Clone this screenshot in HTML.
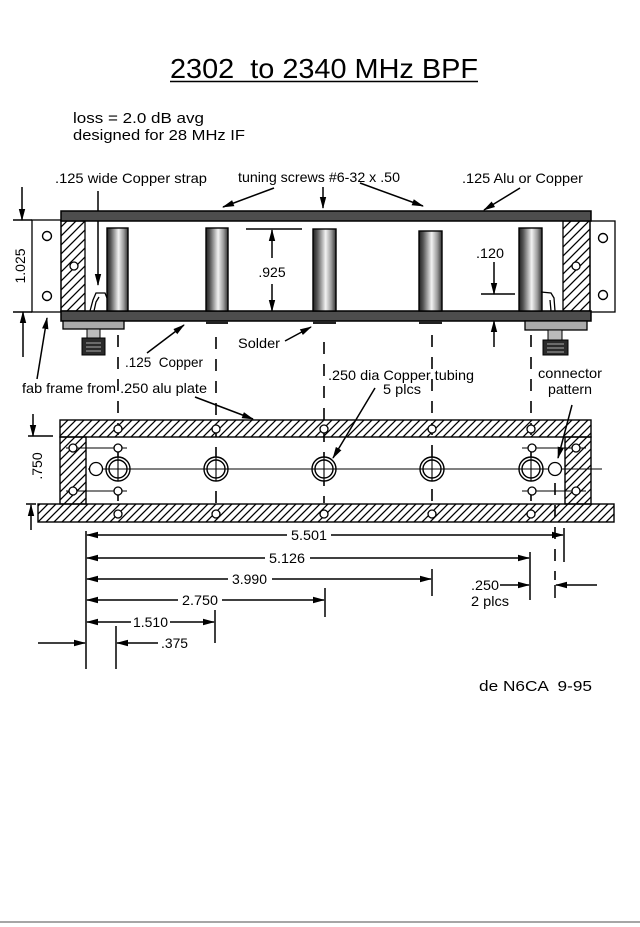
<!DOCTYPE html>
<html>
<head>
<meta charset="utf-8">
<style>
html,body{margin:0;padding:0;background:#fff;}
svg{display:block;}
text{font-family:"Liberation Sans",Arial,sans-serif;fill:#000;white-space:pre;}
</style>
</head>
<body>
<svg width="640" height="927" viewBox="0 0 640 927" xmlns="http://www.w3.org/2000/svg">
<defs>
<pattern id="hatch" patternUnits="userSpaceOnUse" width="8" height="8">
<path d="M0,8 L8,0 M-2,2 L2,-2 M6,10 L10,6" stroke="#000" stroke-width="1.3"/>
</pattern>
<pattern id="hatch2" patternUnits="userSpaceOnUse" width="9" height="9">
<path d="M0,9 L9,0 M-2,2 L2,-2 M7,11 L11,7" stroke="#000" stroke-width="1.3"/>
</pattern>
<linearGradient id="tube" x1="0" y1="0" x2="1" y2="0">
<stop offset="0" stop-color="#222"/>
<stop offset="0.18" stop-color="#555"/>
<stop offset="0.55" stop-color="#f2f2f2"/>
<stop offset="0.8" stop-color="#999"/>
<stop offset="1" stop-color="#333"/>
</linearGradient>
<marker id="ah" markerWidth="12" markerHeight="8" refX="11" refY="4" orient="auto" markerUnits="userSpaceOnUse">
<path d="M0,0.8 L12,4 L0,7.2 Z" fill="#000"/>
</marker>
</defs>

<!-- Title -->
<text x="170" y="78" font-size="28" textLength="308" lengthAdjust="spacingAndGlyphs">2302  to 2340 MHz BPF</text>
<line x1="170" y1="81.5" x2="478" y2="81.5" stroke="#000" stroke-width="1.6"/>

<text x="73" y="123" font-size="15" textLength="131" lengthAdjust="spacingAndGlyphs">loss = 2.0 dB avg</text>
<text x="73" y="140" font-size="15" textLength="172" lengthAdjust="spacingAndGlyphs">designed for 28 MHz IF</text>

<!-- top labels -->
<text x="55" y="183" font-size="14" textLength="152" lengthAdjust="spacingAndGlyphs">.125 wide Copper strap</text>
<text x="238" y="182" font-size="14" textLength="162" lengthAdjust="spacingAndGlyphs">tuning screws #6-32 x .50</text>
<text x="462" y="183" font-size="14" textLength="121" lengthAdjust="spacingAndGlyphs">.125 Alu or Copper</text>

<g stroke="#000" stroke-width="1.5" fill="none">
<line x1="98" y1="191" x2="98" y2="285" marker-end="url(#ah)"/>
<line x1="274" y1="188" x2="223" y2="207" marker-end="url(#ah)"/>
<line x1="323" y1="187" x2="323" y2="208" marker-end="url(#ah)"/>
<line x1="360" y1="183" x2="423" y2="206" marker-end="url(#ah)"/>
<line x1="520" y1="188" x2="484" y2="210" marker-end="url(#ah)"/>
</g>

<!-- Side view -->
<rect x="32" y="220" width="29" height="92" fill="#fff" stroke="#000" stroke-width="1.3"/>
<circle cx="47" cy="236" r="4.5" fill="#fff" stroke="#000" stroke-width="1.4"/>
<circle cx="47" cy="296" r="4.5" fill="#fff" stroke="#000" stroke-width="1.4"/>
<rect x="590" y="221" width="25" height="91" fill="#fff" stroke="#000" stroke-width="1.3"/>
<circle cx="603" cy="238" r="4.5" fill="#fff" stroke="#000" stroke-width="1.4"/>
<circle cx="603" cy="295" r="4.5" fill="#fff" stroke="#000" stroke-width="1.4"/>
<rect x="61" y="221" width="24" height="90" fill="url(#hatch2)" stroke="#000" stroke-width="1.3"/>
<circle cx="74" cy="266" r="4" fill="#fff" stroke="#000" stroke-width="1.3"/>
<rect x="563" y="221" width="27" height="90" fill="url(#hatch2)" stroke="#000" stroke-width="1.3"/>
<circle cx="576" cy="266" r="4" fill="#fff" stroke="#000" stroke-width="1.3"/>
<rect x="61" y="211" width="530" height="10" fill="#4d4d4d" stroke="#000" stroke-width="1.5"/>
<rect x="61" y="311" width="530" height="10" fill="#4d4d4d" stroke="#000" stroke-width="1.5"/>
<g stroke="#000" stroke-width="1.4" fill="url(#tube)">
<rect x="107" y="228" width="21" height="83"/>
<rect x="206" y="228" width="22" height="83"/>
<rect x="313" y="229" width="23" height="82"/>
<rect x="419" y="231" width="23" height="80"/>
<rect x="519" y="228" width="23" height="83"/>
</g>
<g fill="#222">
<rect x="206" y="321" width="22" height="3"/>
<rect x="313" y="321" width="23" height="3"/>
<rect x="419" y="321" width="23" height="3"/>
</g>
<g stroke="#000" stroke-width="1.3" fill="none">
<polyline points="90,311 93,300 96,293 105,293 107,298"/>
<polyline points="94,311 96,302 99,297"/>
<polyline points="555,311 554,298 551,293 541,292"/>
<polyline points="551,311 550,300"/>
</g>
<rect x="63" y="321" width="61" height="8" fill="#aaa" stroke="#000" stroke-width="1.3"/>
<rect x="87" y="329" width="13" height="9" fill="#bbb" stroke="#000" stroke-width="1"/>
<rect x="82" y="338" width="23" height="17" fill="#2a2a2a" stroke="#000" stroke-width="1"/>
<g stroke="#aaa" stroke-width="1"><line x1="86" y1="343" x2="101" y2="343"/><line x1="86" y1="347" x2="101" y2="347"/><line x1="86" y1="351" x2="101" y2="351"/></g>
<rect x="525" y="321" width="62" height="9" fill="#aaa" stroke="#000" stroke-width="1.3"/>
<rect x="548" y="330" width="14" height="10" fill="#bbb" stroke="#000" stroke-width="1"/>
<rect x="543" y="340" width="25" height="15" fill="#2a2a2a" stroke="#000" stroke-width="1"/>
<g stroke="#aaa" stroke-width="1"><line x1="547" y1="344" x2="564" y2="344"/><line x1="547" y1="348" x2="564" y2="348"/><line x1="547" y1="352" x2="564" y2="352"/></g>

<!-- 1.025 dimension -->
<g stroke="#000" stroke-width="1.5" fill="none">
<line x1="13" y1="220" x2="32" y2="220"/>
<line x1="13" y1="312" x2="32" y2="312"/>
<line x1="22" y1="187" x2="22" y2="220" marker-end="url(#ah)"/>
<line x1="23" y1="357" x2="23" y2="312" marker-end="url(#ah)"/>
</g>
<text transform="translate(25,266) rotate(-90)" font-size="14" text-anchor="middle">1.025</text>

<!-- .925 / .120 dims -->
<g stroke="#000" stroke-width="1.5" fill="none">
<line x1="246" y1="229" x2="302" y2="229"/>
<line x1="272" y1="258" x2="272" y2="230" marker-end="url(#ah)"/>
<line x1="272" y1="284" x2="272" y2="311" marker-end="url(#ah)"/>
<line x1="481" y1="294" x2="515" y2="294"/>
<line x1="494" y1="262" x2="494" y2="294" marker-end="url(#ah)"/>
<line x1="494" y1="347" x2="494" y2="321" marker-end="url(#ah)"/>
</g>
<text x="272" y="277" font-size="14" text-anchor="middle">.925</text>
<text x="476" y="258" font-size="14" textLength="28" lengthAdjust="spacingAndGlyphs">.120</text>

<!-- labels below side view -->
<text x="238" y="348" font-size="14" textLength="42" lengthAdjust="spacingAndGlyphs">Solder</text>
<text x="125" y="367" font-size="14" textLength="78" lengthAdjust="spacingAndGlyphs">.125  Copper</text>
<text x="22" y="393" font-size="14" textLength="185" lengthAdjust="spacingAndGlyphs">fab frame from .250 alu plate</text>
<text x="328" y="380" font-size="14" textLength="146" lengthAdjust="spacingAndGlyphs">.250 dia Copper tubing</text>
<text x="383" y="394" font-size="14" textLength="38" lengthAdjust="spacingAndGlyphs">5 plcs</text>
<text x="538" y="378" font-size="14" textLength="64" lengthAdjust="spacingAndGlyphs">connector</text>
<text x="548" y="394" font-size="14" textLength="44" lengthAdjust="spacingAndGlyphs">pattern</text>

<g stroke="#000" stroke-width="1.5" fill="none">
<line x1="285" y1="341" x2="311" y2="327" marker-end="url(#ah)"/>
<line x1="147" y1="353" x2="184" y2="325" marker-end="url(#ah)"/>
<line x1="37" y1="379" x2="47" y2="318" marker-end="url(#ah)"/>
<line x1="195" y1="397" x2="253" y2="419" marker-end="url(#ah)"/>
<line x1="375" y1="388" x2="333" y2="458" marker-end="url(#ah)"/>
<line x1="572" y1="405" x2="558" y2="458" marker-end="url(#ah)"/>
</g>

<!-- Top view -->
<rect x="60" y="420" width="531" height="17" fill="url(#hatch)" stroke="#000" stroke-width="1.4"/>
<rect x="60" y="437" width="26" height="67" fill="url(#hatch)" stroke="#000" stroke-width="1.4"/>
<rect x="565" y="437" width="26" height="67" fill="url(#hatch)" stroke="#000" stroke-width="1.4"/>
<rect x="38" y="504" width="576" height="18" fill="url(#hatch)" stroke="#000" stroke-width="1.4"/>

<g stroke="#000" stroke-width="1.1" fill="none">
<line x1="88" y1="469" x2="602" y2="469"/>
<line x1="66" y1="448" x2="127" y2="448"/>
<line x1="66" y1="491" x2="127" y2="491"/>
<line x1="522" y1="448" x2="586" y2="448"/>
<line x1="522" y1="491" x2="586" y2="491"/>
</g>

<g stroke="#000" stroke-width="1.6" stroke-dasharray="12 10" fill="none">
<line x1="118" y1="335" x2="118" y2="503"/>
<line x1="216" y1="337" x2="216" y2="503"/>
<line x1="324" y1="342" x2="324" y2="503"/>
<line x1="432" y1="335" x2="432" y2="503"/>
<line x1="531" y1="335" x2="531" y2="503"/>
<line x1="555" y1="483" x2="555" y2="580"/>
</g>

<g stroke="#000" stroke-width="1.4" fill="#fff">
<circle cx="118" cy="469" r="12"/><circle cx="118" cy="469" r="9"/>
<circle cx="216" cy="469" r="12"/><circle cx="216" cy="469" r="9"/>
<circle cx="324" cy="469" r="12"/><circle cx="324" cy="469" r="9"/>
<circle cx="432" cy="469" r="12"/><circle cx="432" cy="469" r="9"/>
<circle cx="531" cy="469" r="12"/><circle cx="531" cy="469" r="9"/>
</g>
<g stroke="#000" stroke-width="1.1">
<line x1="106" y1="469" x2="130" y2="469"/><line x1="118" y1="457" x2="118" y2="481"/>
<line x1="204" y1="469" x2="228" y2="469"/><line x1="216" y1="457" x2="216" y2="481"/>
<line x1="312" y1="469" x2="336" y2="469"/><line x1="324" y1="457" x2="324" y2="481"/>
<line x1="420" y1="469" x2="444" y2="469"/><line x1="432" y1="457" x2="432" y2="481"/>
<line x1="519" y1="469" x2="543" y2="469"/><line x1="531" y1="457" x2="531" y2="481"/>
</g>
<g stroke="#000" stroke-width="1.3" fill="#fff">
<circle cx="118" cy="429" r="4"/><circle cx="216" cy="429" r="4"/><circle cx="324" cy="429" r="4"/><circle cx="432" cy="429" r="4"/><circle cx="531" cy="429" r="4"/>
<circle cx="118" cy="514" r="4"/><circle cx="216" cy="514" r="4"/><circle cx="324" cy="514" r="4"/><circle cx="432" cy="514" r="4"/><circle cx="531" cy="514" r="4"/>
<circle cx="73" cy="448" r="4"/><circle cx="73" cy="491" r="4"/><circle cx="118" cy="448" r="4"/><circle cx="118" cy="491" r="4"/>
<circle cx="532" cy="448" r="4"/><circle cx="532" cy="491" r="4"/><circle cx="576" cy="448" r="4"/><circle cx="576" cy="491" r="4"/>
<circle cx="96" cy="469" r="6.5"/><circle cx="555" cy="469" r="6.5"/>
</g>

<!-- .750 dimension -->
<g stroke="#000" stroke-width="1.5" fill="none">
<line x1="28" y1="436" x2="53" y2="436"/>
<line x1="33" y1="414" x2="33" y2="436" marker-end="url(#ah)"/>
<line x1="26" y1="504" x2="36" y2="504"/>
<line x1="31" y1="530" x2="31" y2="505" marker-end="url(#ah)"/>
</g>
<text transform="translate(42,466) rotate(-90)" font-size="14" text-anchor="middle">.750</text>

<!-- lower dimensions -->
<g stroke="#000" stroke-width="1.5" fill="none">
<line x1="86" y1="531" x2="86" y2="669"/>
<line x1="116" y1="626" x2="116" y2="669"/>
<line x1="564" y1="528" x2="564" y2="562"/>
<line x1="530" y1="552" x2="530" y2="600"/>
<line x1="432" y1="569" x2="432" y2="596"/>
<line x1="325" y1="588" x2="325" y2="617"/>
<line x1="215" y1="610" x2="215" y2="643"/>

<line x1="287" y1="535" x2="87" y2="535" marker-end="url(#ah)"/>
<line x1="331" y1="535" x2="563" y2="535" marker-end="url(#ah)"/>
<line x1="265" y1="558" x2="87" y2="558" marker-end="url(#ah)"/>
<line x1="310" y1="558" x2="529" y2="558" marker-end="url(#ah)"/>
<line x1="228" y1="579" x2="87" y2="579" marker-end="url(#ah)"/>
<line x1="272" y1="579" x2="431" y2="579" marker-end="url(#ah)"/>
<line x1="178" y1="600" x2="87" y2="600" marker-end="url(#ah)"/>
<line x1="222" y1="600" x2="324" y2="600" marker-end="url(#ah)"/>
<line x1="131" y1="622" x2="87" y2="622" marker-end="url(#ah)"/>
<line x1="170" y1="622" x2="214" y2="622" marker-end="url(#ah)"/>
<line x1="158" y1="643" x2="117" y2="643" marker-end="url(#ah)"/>
<line x1="38" y1="643" x2="85" y2="643" marker-end="url(#ah)"/>
<line x1="500" y1="585" x2="529" y2="585" marker-end="url(#ah)"/>
<line x1="597" y1="585" x2="556" y2="585" marker-end="url(#ah)"/>
<line x1="555" y1="585" x2="555" y2="598"/>
</g>
<text x="291" y="540" font-size="14" textLength="36" lengthAdjust="spacingAndGlyphs">5.501</text>
<text x="269" y="563" font-size="14" textLength="36" lengthAdjust="spacingAndGlyphs">5.126</text>
<text x="232" y="584" font-size="14" textLength="35" lengthAdjust="spacingAndGlyphs">3.990</text>
<text x="182" y="605" font-size="14" textLength="36" lengthAdjust="spacingAndGlyphs">2.750</text>
<text x="133" y="627" font-size="14" textLength="35" lengthAdjust="spacingAndGlyphs">1.510</text>
<text x="161" y="648" font-size="14" textLength="27" lengthAdjust="spacingAndGlyphs">.375</text>
<text x="471" y="590" font-size="14" textLength="28" lengthAdjust="spacingAndGlyphs">.250</text>
<text x="471" y="606" font-size="14" textLength="38" lengthAdjust="spacingAndGlyphs">2 plcs</text>

<text x="479" y="691" font-size="15" textLength="113" lengthAdjust="spacingAndGlyphs">de N6CA  9-95</text>

<line x1="0" y1="922" x2="640" y2="922" stroke="#888" stroke-width="1.5"/>
</svg>
</body>
</html>
